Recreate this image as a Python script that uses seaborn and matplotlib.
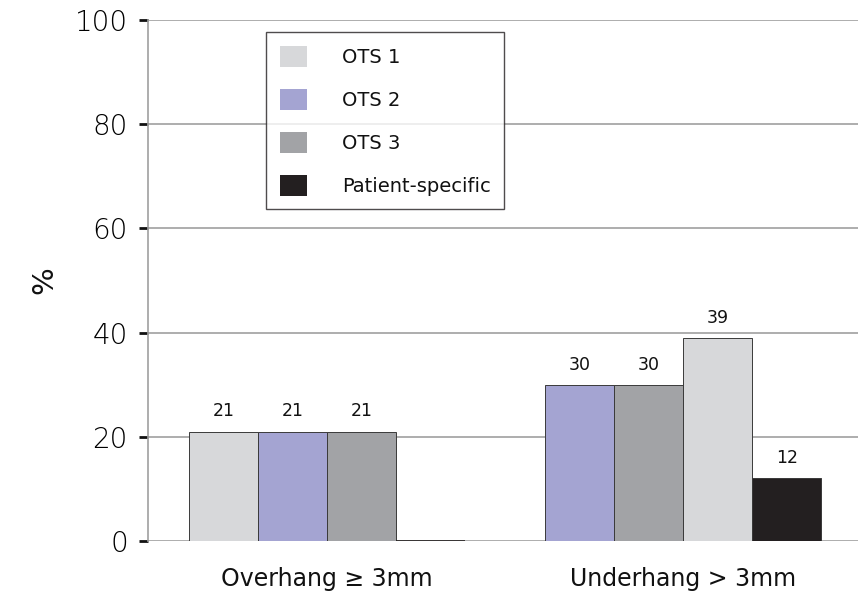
import matplotlib
matplotlib.use("Agg")
import matplotlib.pyplot as plt
import seaborn as sns
import pandas as pd
from matplotlib.patches import Patch

# ---- data ----
groups = ["Overhang \u2265 3mm", "Underhang > 3mm"]
series = ["OTS 1", "OTS 2", "OTS 3", "Patient-specific"]
overhang_order = ["OTS 1", "OTS 2", "OTS 3", "Patient-specific"]
overhang_values = [21, 21, 21, 0]
underhang_order = ["OTS 2", "OTS 3", "OTS 1", "Patient-specific"]
underhang_values = [30, 30, 39, 12]
yticks = [0, 20, 40, 60, 80, 100]

colors = {"OTS 1": "#d7d8da", "OTS 2": "#a4a4d2", "OTS 3": "#a2a3a6",
          "Patient-specific": "#231f20"}

rows = []
for g, order, vals in [(groups[0], overhang_order, overhang_values),
                       (groups[1], underhang_order, underhang_values)]:
    for slot, (s, v) in enumerate(zip(order, vals)):
        rows.append({"group": g, "series": s, "value": v, "slot": slot})
df = pd.DataFrame(rows)

sns.set_theme(style="white")
FONT = ["DejaVu Sans"]
plt.rcParams["font.family"] = FONT

fig = plt.figure(figsize=(8.58, 6.0), dpi=100)
ax = fig.add_axes([148/858, 59/600, 1 - 148/858, 521/600])

sns.barplot(data=df, x="group", y="value", hue="slot", hue_order=[0, 1, 2, 3],
            order=groups, width=0.775, legend=False, ax=ax,
            edgecolor="#3a3a3a", linewidth=0.7, saturation=1, errorbar=None)

# recolor bars by series, add labels
for slot, cont in enumerate(ax.containers):
    for gi, bar in enumerate(cont):
        sub = df[(df["group"] == groups[gi]) & (df["slot"] == slot)].iloc[0]
        bar.set_facecolor(colors[sub["series"]])
        if sub["value"] > 0:
            ax.annotate(f"{sub['value']:g}",
                        (bar.get_x() + bar.get_width() / 2, bar.get_height()),
                        xytext=(0, 8), textcoords="offset points",
                        ha="center", va="bottom", fontsize=12.5, color="#111111")
        else:
            bar.set_edgecolor("#231f20")
            bar.set_linewidth(1.2)

ax.set_xlim(-0.503, 1.49)
ax.set_ylim(0, 100)
ax.set_yticks(yticks)
ax.set_yticklabels([str(t) for t in yticks], fontsize=20, color="#000000",
                   fontweight=200)
ax.yaxis.grid(True, color="#a0a0a0", linewidth=1.2)
ax.set_axisbelow(True)
ax.tick_params(axis="y", which="major", left=True, length=6.5, width=2.0,
               color="#111111", pad=8)
ax.tick_params(axis="x", bottom=False, labelsize=17, pad=13, colors="#111111")
ax.set_xlabel("")
ax.set_ylabel("%", fontsize=21, color="#111111", labelpad=12)
for side in ["top", "right", "bottom"]:
    ax.spines[side].set_visible(False)
ax.spines["left"].set_color("#a0a0a0")
ax.spines["left"].set_linewidth(1.2)

handles = [Patch(facecolor=colors[s], edgecolor="none", label=s) for s in series]
leg = ax.legend(handles=handles, loc="upper left",
                bbox_to_anchor=((266 - 148) / 710, (541 - 32) / 521),
                frameon=True, fancybox=False, fontsize=14,
                handlelength=1.4, handleheight=1.3, handletextpad=1.8,
                labelspacing=1.12, borderpad=0.7, borderaxespad=0)
for t in leg.get_texts():
    t.set_color("#111111")
leg.get_frame().set_edgecolor("#231f20")
leg.get_frame().set_linewidth(1.0)

fig.savefig("out.png", dpi=100)
